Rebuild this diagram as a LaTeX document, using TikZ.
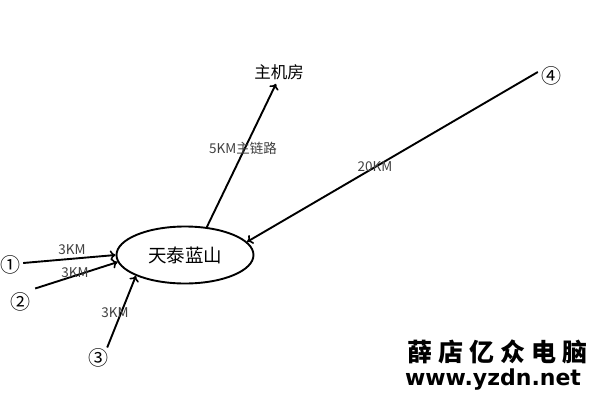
\documentclass[tikz,border=0pt]{standalone}
\usepackage{fontspec}
\setmainfont{Noto Sans CJK SC}
\newfontfamily\wmfont{DejaVu Sans}
\usetikzlibrary{arrows.meta,shapes.geometric}
\tikzset{
  conn/.style={line width=1.9pt,-{To[length=5.5pt,width=10pt,line width=1.6pt]}},
  lbl/.style={font=\fontsize{13.5}{13.5}\selectfont, text=black!75, inner sep=0pt},
  num/.style={font=\fontsize{20}{20}\selectfont, inner sep=0pt},
}
\begin{document}
\begin{tikzpicture}[x=1pt,y=-1pt]
\useasboundingbox[fill=white] (0,0) rectangle (600,400);
\node[draw, ellipse, line width=1.9pt, minimum width=137pt, minimum height=57pt, inner sep=0pt,
      font=\fontsize{18.5}{18.5}\selectfont] (hub) at (185,255) {天泰蓝山};
\node[font=\fontsize{16.5}{16.5}\selectfont, inner sep=1pt] (host) at (279,72) {主机房};
\node[num] (n1) at (10,265) {①};
\node[num] (n2) at (20,302) {②};
\node[num] (n3) at (98,358) {③};
\node[num] (n4) at (551,76) {④};
\draw[conn] (n1.east) ++(3pt,2pt) coordinate (s1) -- (hub.180);
\draw[conn] (n2.north east) ++(5pt,4pt) coordinate (s2) -- (hub.186);
\draw[conn] (n3.north east) ++(-1pt,1pt) coordinate (s3) -- (hub.203);
\draw[conn] (n4.west) ++(-3pt,4pt) coordinate (s4) -- (hub.12);
\draw[conn] (hub.52) -- ([xshift=-3pt,yshift=-3pt]host.south);
\node[lbl] (l1) at (72,250) {3KM};
\node[lbl] (l2) at (75,273) {3KM};
\node[lbl] (l3) at (115,313) {3KM};
\node[lbl] (l5) at (243,148) {5KM主链路};
\node[lbl] (l4) at (375,167) {20KM};
\node[font=\fontsize{25}{25}\selectfont\bfseries, inner sep=0pt] (wm1) at (497,352)
  {薛\hspace{6pt}店\hspace{6pt}亿\hspace{6pt}众\hspace{6pt}电\hspace{6pt}脑};
\node[font=\wmfont\fontsize{22}{22}\selectfont\bfseries, inner sep=0pt] (wm2) at (493,380) {www.yzdn.net};
\end{tikzpicture}
\end{document}
